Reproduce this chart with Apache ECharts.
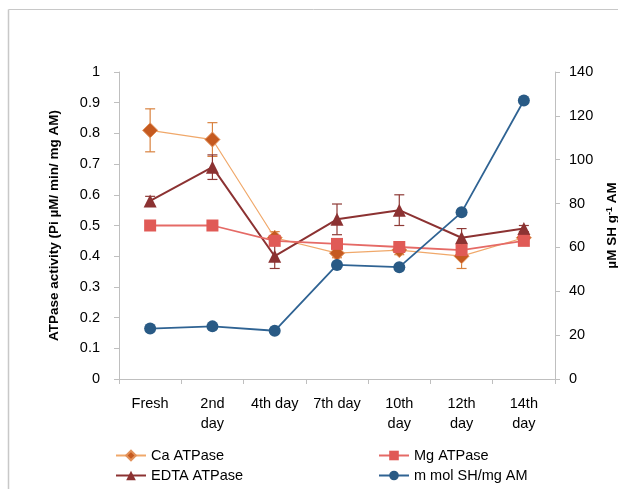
<!DOCTYPE html>
<html><head><meta charset="utf-8">
<script src="https://cdn.jsdelivr.net/npm/echarts@6/dist/echarts.min.js"></script>
<style>html,body{margin:0;padding:0;background:#fff}#c{width:618px;height:489px}</style>
</head><body><div id="c"></div>
<script>
var categories = ['Fresh', '2nd\nday', '4th day', '7th day', '10th\nday', '12th\nday', '14th\nday'];
var caATPase = [0.81, 0.78, 0.46, 0.41, 0.42, 0.40, 0.46];
var caErr = [0.07, 0.055, 0.02, 0.015, 0.015, 0.04, 0.01];
var mgATPase = [0.50, 0.50, 0.45, 0.44, 0.43, 0.42, 0.45];
var edtaATPase = [0.58, 0.69, 0.40, 0.52, 0.55, 0.46, 0.49];
var edtaErr = [0.015, 0.04, 0.04, 0.05, 0.05, 0.03, 0.01];
var shValues = [23, 24, 22, 52, 51, 76, 127];
var leftTicks = {min: 0, max: 1, interval: 0.1};
var rightTicks = {min: 0, max: 140, interval: 20};

var FONT = 'Liberation Sans, Arial, sans-serif';
var AXC = '#BFBFBF';

function errSeries(vals, errs, color) {
  return {
    type: 'custom', yAxisIndex: 0, z: 1, silent: true,
    data: vals.map(function (v, i) { return [i, v - errs[i], v + errs[i]]; }),
    renderItem: function (params, api) {
      var lo = api.coord([api.value(0), api.value(1)]);
      var hi = api.coord([api.value(0), api.value(2)]);
      var w = 5;
      var st = {stroke: color, lineWidth: 1.2};
      return {type: 'group', children: [
        {type: 'line', shape: {x1: lo[0], y1: lo[1], x2: hi[0], y2: hi[1]}, style: st},
        {type: 'line', shape: {x1: lo[0] - w, y1: lo[1], x2: lo[0] + w, y2: lo[1]}, style: st},
        {type: 'line', shape: {x1: hi[0] - w, y1: hi[1], x2: hi[0] + w, y2: hi[1]}, style: st}
      ]};
    }
  };
}

var chart = echarts.init(document.getElementById('c'), null, {renderer: 'canvas'});
var legendText = {fontFamily: FONT, fontSize: 14.5, color: '#000'};
chart.setOption({
  animation: false,
  backgroundColor: '#fff',
  textStyle: {fontFamily: FONT},
  graphic: [
    {type: 'line', shape: {x1: 8.5, y1: 9.5, x2: 618, y2: 9.5}, style: {stroke: '#C8C8C8', lineWidth: 1}},
    {type: 'line', shape: {x1: 8.5, y1: 9.5, x2: 8.5, y2: 489}, style: {stroke: '#C8C8C8', lineWidth: 1.5}}
  ],
  grid: {left: 119, right: 63, top: 72, bottom: 110, outerBoundsMode: 'none', containLabel: false},
  legend: [
    {data: ['Ca ATPase'], left: 110, top: 443, itemWidth: 30, itemHeight: 12, itemGap: 0, textStyle: legendText},
    {data: ['EDTA ATPase'], left: 110, top: 463, itemWidth: 30, itemHeight: 12, itemGap: 0, textStyle: legendText},
    {data: ['Mg ATPase'], left: 373, top: 443, itemWidth: 30, itemHeight: 12, itemGap: 0, textStyle: legendText},
    {data: ['m mol SH/mg AM'], left: 373, top: 463, itemWidth: 30, itemHeight: 12, itemGap: 0, textStyle: legendText}
  ],
  xAxis: {
    type: 'category', data: categories, boundaryGap: true,
    axisLine: {lineStyle: {color: AXC}},
    axisTick: {show: true, inside: false, length: 5, lineStyle: {color: AXC}},
    axisLabel: {fontSize: 14.5, color: '#000', margin: 15, interval: 0, lineHeight: 20, fontFamily: FONT}
  },
  yAxis: [
    {type: 'value', min: leftTicks.min, max: leftTicks.max, interval: leftTicks.interval, position: 'left',
     name: 'ATPase activity (Pi µM/ min/ mg AM)', nameLocation: 'middle', nameGap: 58, nameRotate: 90,
     nameTextStyle: {fontSize: 13.5, fontWeight: 'bold', color: '#000', fontFamily: FONT},
     axisLine: {show: true, lineStyle: {color: AXC}},
     axisTick: {show: true, length: 5, lineStyle: {color: AXC}},
     splitLine: {show: false},
     axisLabel: {fontSize: 14.5, color: '#000', margin: 19, fontFamily: FONT,
       formatter: function (v) { return Math.round(v * 10) / 10 + ''; }}},
    {type: 'value', min: rightTicks.min, max: rightTicks.max, interval: rightTicks.interval, position: 'right',
     name: '{a|µM SH g}{s|-1}{a| AM}', nameLocation: 'middle', nameGap: 50, nameRotate: 90,
     nameTextStyle: {fontSize: 13.5, fontWeight: 'bold', color: '#000', fontFamily: FONT,
       rich: {a: {fontSize: 13.5, fontWeight: 'bold', fontFamily: FONT, color: '#000'},
              s: {fontSize: 9, fontWeight: 'bold', fontFamily: FONT, color: '#000', verticalAlign: 'top', padding: [0, 0, 6, 0]}}},
     axisLine: {show: true, lineStyle: {color: AXC}},
     axisTick: {show: true, length: 5, lineStyle: {color: AXC}},
     splitLine: {show: false},
     axisLabel: {fontSize: 14.5, color: '#000', margin: 14, fontFamily: FONT}}
  ],
  series: [
    errSeries(caATPase, caErr, '#D9823F'),
    errSeries(edtaATPase, edtaErr, '#8E3A36'),
    {name: 'Ca ATPase', type: 'line', yAxisIndex: 0, data: caATPase, z: 2,
     symbol: 'diamond', symbolSize: 15,
     lineStyle: {color: '#F0A86A', width: 1.2}, itemStyle: {color: '#C55A20', borderColor: '#E2915A', borderWidth: 1}},
    {name: 'EDTA ATPase', type: 'line', yAxisIndex: 0, data: edtaATPase, z: 3,
     symbol: 'triangle', symbolSize: 13,
     lineStyle: {color: '#8C3232', width: 2}, itemStyle: {color: '#8C3232'}},
    {name: 'Mg ATPase', type: 'line', yAxisIndex: 0, data: mgATPase, z: 4,
     symbol: 'rect', symbolSize: 12,
     lineStyle: {color: '#E56A66', width: 1.8}, itemStyle: {color: '#E05A56'}},
    {name: 'm mol SH/mg AM', type: 'line', yAxisIndex: 1, data: shValues, z: 5,
     symbol: 'circle', symbolSize: 12,
     lineStyle: {color: '#2F6393', width: 1.8}, itemStyle: {color: '#295A85'}}
  ]
});
</script></body></html>
